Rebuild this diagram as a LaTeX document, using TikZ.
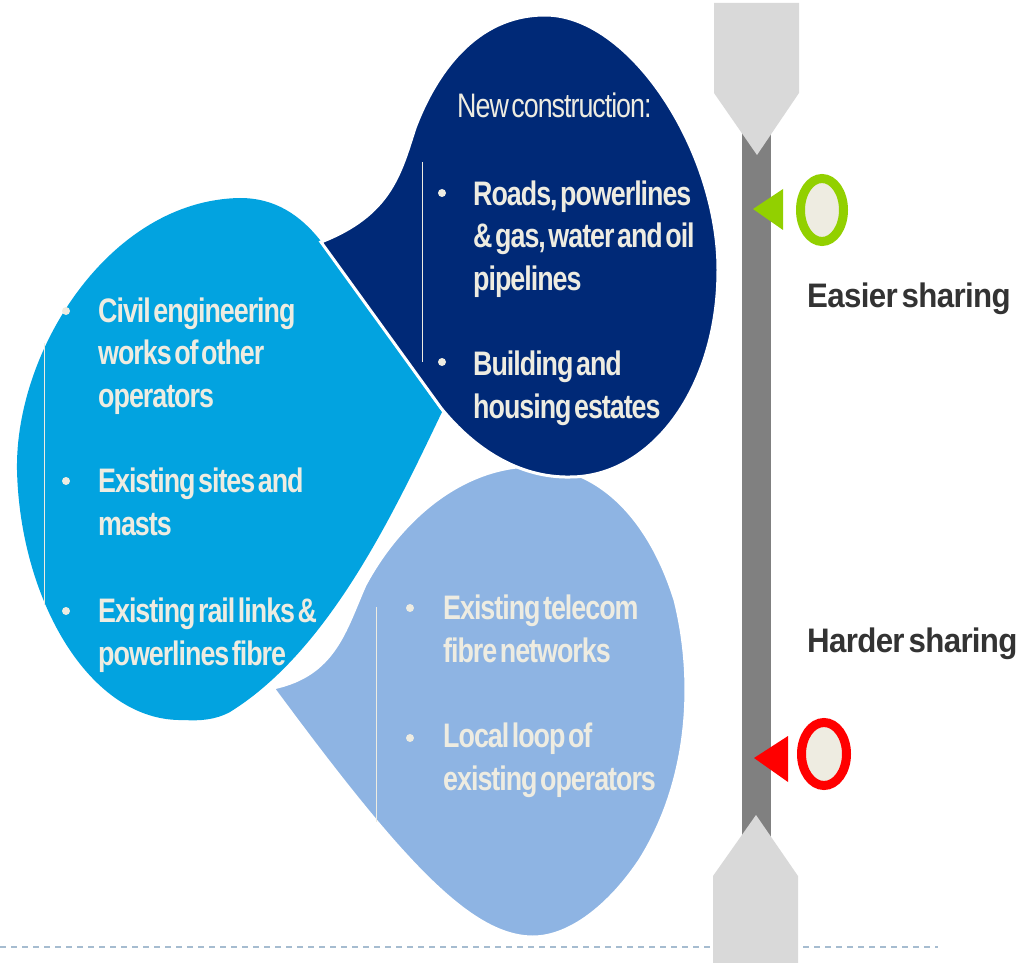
\documentclass[tikz,border=0pt]{standalone}
\usepackage{fontspec}
\setmainfont{Liberation Sans}
\newfontfamily\bubblefont{Liberation Sans}[FakeStretch=0.79,LetterSpace=-3,WordSpace=0.4]
\newfontfamily\sharefont{Liberation Sans}[FakeStretch=0.92,LetterSpace=-2,WordSpace=0.5]
\definecolor{navy}{RGB}{0,41,119}
\definecolor{skyblue}{RGB}{2,163,224}
\definecolor{paleblue}{RGB}{142,180,227}
\definecolor{cream}{RGB}{238,236,225}
\definecolor{bargray}{RGB}{128,128,128}
\definecolor{tipgray}{RGB}{217,217,217}
\definecolor{darktext}{RGB}{51,51,51}
\definecolor{limegreen}{RGB}{146,208,0}
\definecolor{dashblue}{RGB}{166,188,208}

\begin{document}
\begin{tikzpicture}[x=1pt, y=-1pt,
    itemtext/.style={anchor=base west, align=left, inner sep=0pt, text=cream,
      font=\bubblefont\bfseries\fontsize{34}{42.5}\selectfont},
    dot/.style={circle, fill=cream, inner sep=0pt, minimum size=8pt},
    sharelabel/.style={anchor=base west, inner sep=0pt, text=darktext,
      font=\sharefont\bfseries\fontsize{34}{40}\selectfont}]
\useasboundingbox (0,0) rectangle (1021,963);

\draw[dashblue, line width=1.5pt, dash pattern=on 6pt off 5pt] (0,947) -- (938,947);

\fill[skyblue] (442,412) .. controls (395,510) and (330,650) .. (230,712)
    .. controls (215,720) and (200,721) .. (183,720)
    .. controls (90,722) and (20,600) .. (17,470)
    .. controls (15,350) and (110,200) .. (240,198)
    .. controls (275,198) and (300,215) .. (320,240) -- cycle;
\filldraw[fill=paleblue, draw=white, line width=3pt] (273,688)
    .. controls (335,675) and (345,630) .. (365,585)
    .. controls (400,520) and (460,468) .. (530,466)
    .. controls (600,465) and (650,520) .. (675,600)
    .. controls (695,680) and (690,780) .. (640,860)
    .. controls (610,905) and (570,937) .. (533,937)
    .. controls (470,937) and (400,860) .. (273,688) -- cycle;
\filldraw[fill=navy, draw=white, line width=3pt] (321,242) -- (441,408)
    .. controls (475,450) and (520,478) .. (570,477)
    .. controls (650,477) and (718,390) .. (718,270)
    .. controls (718,150) and (630,15) .. (545,15)
    .. controls (475,15) and (435,75) .. (415,128)
    .. controls (400,175) and (390,215) .. (321,242) -- cycle;

\draw[cream, line width=1pt] (422,162) -- (422,362);
\draw[cream, line width=1pt] (44,343) -- (44,605);
\draw[cream, line width=1pt] (376,607) -- (376,822);

\node[anchor=base west, inner sep=0pt, text=cream,
  font=\bubblefont\fontsize{34}{42.5}\selectfont] (newcon) at (457,118) {New construction:};
\node[dot] (roadsdot) at (442,193) {};
\node[itemtext] (roads) at (473,290) {Roads, powerlines\\\& gas, water and oil\\pipelines};
\node[dot] (builddot) at (442,362) {};
\node[itemtext] (build) at (473,418) {Building and\\housing estates};

\node[dot] (civildot) at (66,311) {};
\node[itemtext] (civil) at (98,407) {Civil engineering\\works of other\\operators};
\node[dot] (sitesdot) at (66,481) {};
\node[itemtext] (sites) at (98,535) {Existing sites and\\masts};
\node[dot] (raildot) at (66,611) {};
\node[itemtext] (rail) at (98,665) {Existing rail links \&\\powerlines fibre};

\node[dot] (telecomdot) at (410,608) {};
\node[itemtext] (telecom) at (443,662) {Existing telecom\\fibre networks};
\node[dot] (loopdot) at (410,738) {};
\node[itemtext] (loop) at (443,790) {Local loop of\\existing operators};

\fill[bargray] (742,100) rectangle (771,840);
\fill[tipgray] (714,3) -- (799,3) -- (799,93) -- (757,155) -- (714,93) -- cycle;
\fill[tipgray] (713,963) -- (713,876) -- (756,815) -- (798,876) -- (798,963) -- cycle;

\fill[limegreen] (753,209) -- (783,189) -- (783,230) -- cycle;
\filldraw[fill=cream, draw=limegreen, line width=9pt] (822,210) ellipse (21.5 and 31.5);
\fill[red] (754,758) -- (788,736) -- (788,782) -- cycle;
\filldraw[fill=cream, draw=red, line width=9pt] (824,754) ellipse (22.5 and 31.5);

\node[sharelabel] (easier) at (807,307) {Easier sharing};
\node[sharelabel] (harder) at (807,652) {Harder sharing};
\end{tikzpicture}
\end{document}
